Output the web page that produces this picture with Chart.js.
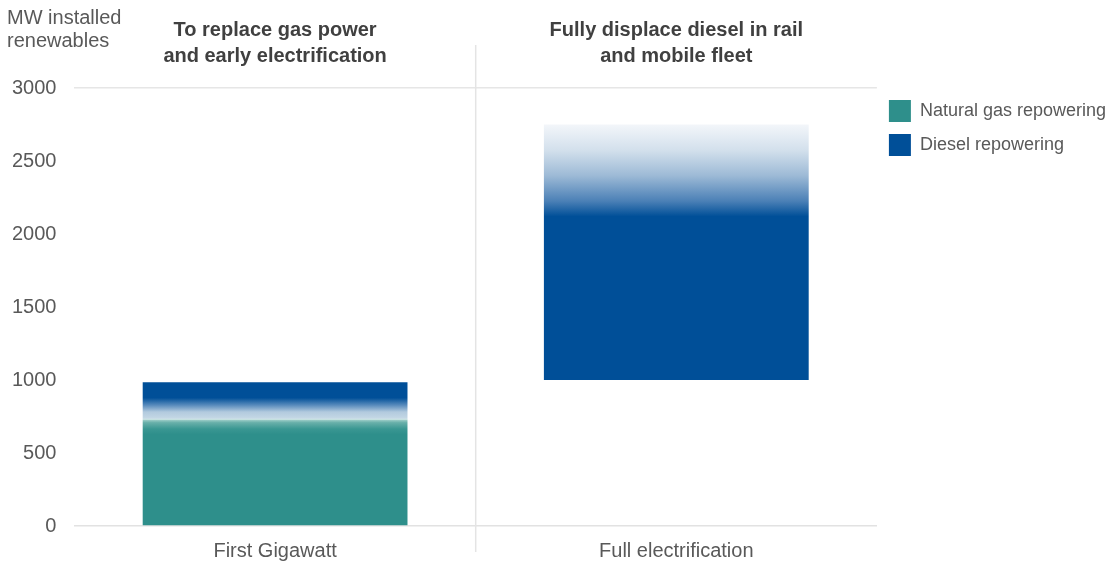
<!DOCTYPE html>
<html lang="en">
<head>
    <meta charset="UTF-8">
    <title>MW installed renewables</title>
    <script src="https://cdn.jsdelivr.net/npm/chart.js"></script>
    <style>
        html, body {
            margin: 0;
            padding: 0;
            background: #ffffff;
        }
        .wrap {
            width: 1114px;
            height: 565px;
        }
    </style>
</head>
<body>
    <div class="wrap">
        <canvas id="mwChart"></canvas>
    </div>

    <script>
        // categories and values (MW installed renewables)
        const categories = ["First Gigawatt", "Full electrification"];
        const headings = [
            ["To replace gas power", "and early electrification"],
            ["Fully displace diesel in rail", "and mobile fleet"]
        ];
        const gasRange = [[0, 730], null];
        const dieselRange = [[730, 985], [1000, 2750]];
        const yTicks = [0, 500, 1000, 1500, 2000, 2500, 3000];

        const TEAL = "#2e8f8b";
        const BLUE = "#004f98";
        const GREY = "#595959";

        function barGradient(context, stops) {
            const chart = context.chart;
            const area = chart.chartArea;
            const raw = context.raw;
            if (!area || !raw) return null;
            const y = chart.scales.y;
            const top = y.getPixelForValue(raw[1]);
            const bottom = y.getPixelForValue(raw[0]);
            const g = chart.ctx.createLinearGradient(0, top, 0, bottom);
            stops.forEach(s => g.addColorStop(s[0], s[1]));
            return g;
        }

        function gasFill(context) {
            if (context.type !== "data") return TEAL;
            return barGradient(context, [
                [0, "#a6d2cd"], [0.03, "#69b0aa"], [0.09, "#3a9792"], [0.14, TEAL], [1, TEAL]
            ]);
        }

        function dieselFill(context) {
            if (context.type !== "data") return BLUE;
            if (context.dataIndex === 0) {
                return barGradient(context, [
                    [0, BLUE], [0.42, BLUE], [0.62, "#5a8cbd"], [0.8, "#b2cade"], [0.95, "#c2d6e4"], [1, "#cfe3e8"]
                ]);
            }
            return barGradient(context, [
                [0, "#f3f6fa"], [0.1, "#d3e0ec"], [0.2, "#9dbad6"], [0.3, "#4b80b6"], [0.36, BLUE], [1, BLUE]
            ]);
        }

        // headings above each category, the split line and the unit label
        const annotations = {
            id: "annotations",
            afterDraw(chart) {
                const ctx = chart.ctx;
                const x = chart.scales.x;
                ctx.save();

                const mid = (x.getPixelForValue(0) + x.getPixelForValue(1)) / 2;
                ctx.strokeStyle = "#e4e4e4";
                ctx.lineWidth = 1.5;
                ctx.beginPath();
                ctx.moveTo(mid, 45);
                ctx.lineTo(mid, 552);
                ctx.stroke();

                ctx.fillStyle = "#404040";
                ctx.font = "bold 20px 'Liberation Sans', Arial, sans-serif";
                ctx.textAlign = "center";
                ctx.textBaseline = "middle";
                headings.forEach((lines, i) => {
                    const cx = x.getPixelForValue(i);
                    lines.forEach((t, j) => ctx.fillText(t, cx, 30 + j * 26));
                });

                ctx.fillStyle = GREY;
                ctx.font = "20px 'Liberation Sans', Arial, sans-serif";
                ctx.textAlign = "left";
                ctx.fillText("MW installed", 7, 18);
                ctx.fillText("renewables", 7, 41);
                ctx.restore();
            }
        };

        const ctx = document.getElementById("mwChart").getContext("2d");
        const mwChart = new Chart(ctx, {
            type: "bar",
            data: {
                labels: categories,
                datasets: [
                    {
                        label: "Natural gas repowering",
                        data: gasRange,
                        backgroundColor: gasFill,
                        borderWidth: 0
                    },
                    {
                        label: "Diesel repowering",
                        data: dieselRange,
                        backgroundColor: dieselFill,
                        borderWidth: 0
                    }
                ]
            },
            options: {
                responsive: true,
                maintainAspectRatio: false,
                animation: false,
                layout: {
                    padding: { top: 88, left: -6, right: -2, bottom: -11 }
                },
                datasets: {
                    bar: { barPercentage: 0.66, categoryPercentage: 1 }
                },
                plugins: {
                    tooltip: { enabled: false },
                    legend: {
                        position: "right",
                        align: "start",
                        fullSize: false,
                        labels: {
                            boxWidth: 22,
                            boxHeight: 22,
                            padding: 12,
                            color: GREY,
                            font: { family: "'Liberation Sans', Arial, sans-serif", size: 18 },
                            generateLabels(chart) {
                                return chart.data.datasets.map((ds, i) => ({
                                    text: ds.label,
                                    fillStyle: i === 0 ? TEAL : BLUE,
                                    strokeStyle: "transparent",
                                    lineWidth: 0,
                                    fontColor: GREY,
                                    datasetIndex: i
                                }));
                            }
                        }
                    }
                },
                scales: {
                    x: {
                        stacked: true,
                        grid: { display: false, drawTicks: false },
                        border: { display: true, color: "#e2e2e2", width: 1.5 },
                        ticks: {
                            padding: 13,
                            color: GREY,
                            font: { family: "'Liberation Sans', Arial, sans-serif", size: 20 }
                        }
                    },
                    y: {
                        min: 0,
                        max: 3000,
                        afterBuildTicks(axis) {
                            axis.ticks = yTicks.map(v => ({ value: v }));
                        },
                        grid: {
                            drawTicks: false,
                            lineWidth: 1.5,
                            color: c => c.tick && c.tick.value === 3000 ? "#e6e6e6" : "transparent"
                        },
                        border: { display: false },
                        ticks: {
                            padding: 18,
                            color: GREY,
                            font: { family: "'Liberation Sans', Arial, sans-serif", size: 20 },
                            callback: v => String(v)
                        }
                    }
                }
            },
            plugins: [annotations]
        });
    </script>
</body>
</html>
